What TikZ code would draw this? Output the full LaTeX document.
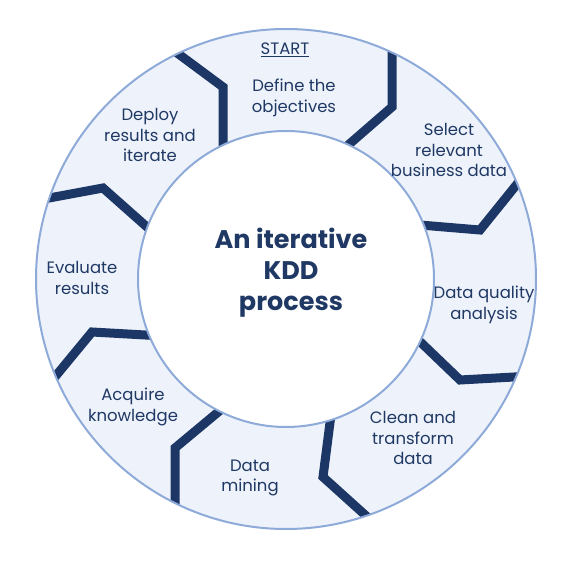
\documentclass[tikz,border=0pt]{standalone}
\usepackage{fontspec}
\setmainfont{Poppins}
\definecolor{navy}{HTML}{1F3864}
\definecolor{barnavy}{HTML}{1C3766}
\definecolor{ringfill}{HTML}{EEF3FB}
\definecolor{ringline}{HTML}{8EAAD8}
\begin{document}
\begin{tikzpicture}[x=1pt,y=-1pt,
  lbl/.style={align=center,text=navy,inner sep=0pt,font=\fontsize{16.5}{20.7}\selectfont},
  ttl/.style={align=center,text=navy,inner sep=0pt,font=\fontsize{25.5}{31}\selectfont\bfseries},
  bar/.style={draw=barnavy,line width=9pt,line join=miter,line cap=butt}]
\useasboundingbox (0,0) rectangle (571,564);
\coordinate (c) at (286,279);
\fill[ringfill] (c) circle[radius=250pt];
\begin{scope}
\clip (c) circle[radius=250pt];
\draw[bar] (165,44) -- (223,87) -- (223,160);
\draw[bar] (392,38) -- (392,107) -- (339,153);
\draw[bar] (526,173) -- (480,230) -- (408,224);
\draw[bar] (411,333) -- (460,380) -- (532,376);
\draw[bar] (332,407) -- (323,477) -- (374,523);
\draw[bar] (229,403) -- (175,448) -- (175,518);
\draw[bar] (163,336) -- (92,332) -- (45,389);
\draw[bar] (33,201) -- (103,188) -- (156,235);
\end{scope}
\draw[ringline,line width=2pt] (c) circle[radius=250pt];
\filldraw[fill=white,draw=ringline,line width=2pt] (c) circle[radius=148pt];
\node[ttl] (title) at (291,273) {An iterative\\KDD\\process};
\node[lbl,anchor=base] (start) at (285,55) {\underline{START}};
\node[lbl] (define) at (294,98) {Define the\\objectives};
\node[lbl] (select) at (449,150) {Select\\relevant\\business data};
\node[lbl] (quality) at (484,305) {Data quality\\analysis};
\node[lbl] (clean) at (413,438) {Clean and\\transform\\data};
\node[lbl] (mining) at (250,478) {Data\\mining};
\node[lbl] (acquire) at (133,407) {Acquire\\knowledge};
\node[lbl] (evaluate) at (82,278) {Evaluate\\results};
\node[lbl] (deploy) at (150,135) {Deploy\\results and\\iterate};
\end{tikzpicture}
\end{document}
